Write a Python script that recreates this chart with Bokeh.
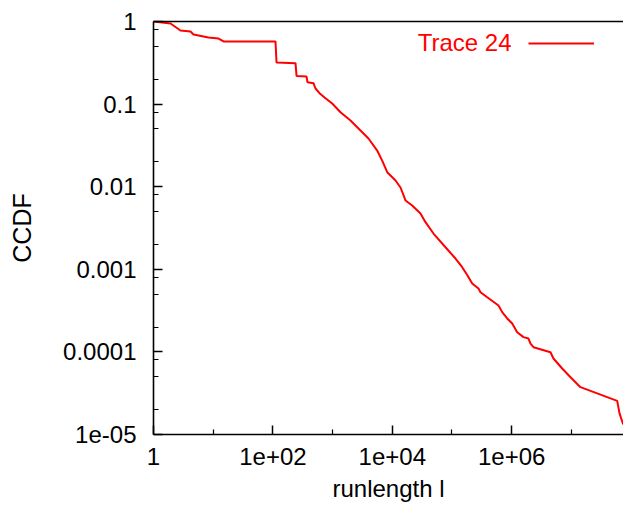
from bokeh.plotting import figure
from bokeh.models import (Range1d, FixedTicker, CustomJSTickFormatter, Label,
                          Legend, LegendItem, LogAxis)
from bokeh.embed import file_html
from bokeh.resources import INLINE

# ---- data ----
runlength = [1, 1.93, 2.83, 4.17, 4.68, 8.34, 12.3, 14.9, 110.6, 115, 239, 249,
             365, 380, 479, 517, 604, 732, 985, 1355, 1995, 2931, 3991, 5580,
             6770, 8220, 11320, 13720, 16640, 21530, 29650, 35960, 48980, 77800,
             114500, 148300, 181900, 218000, 277800, 300000, 389000, 601000,
             693000, 841000, 1.02e6, 1.236e6, 1.577e6, 1.911e6, 2.065e6,
             2.318e6, 4.466e6, 5.01e6, 7.01e6, 9.66e6, 1.42e7, 5.85e7, 6.40e7,
             7.38e7]
ccdf = [1, 0.946, 0.778, 0.757, 0.696, 0.640, 0.622, 0.573, 0.573, 0.319,
        0.313, 0.219, 0.216, 0.184, 0.179, 0.1545, 0.1355, 0.120, 0.1017,
        0.0798, 0.0633, 0.0479, 0.0383, 0.0274, 0.0207, 0.01497, 0.01188,
        0.00978, 0.00681, 0.00592, 0.00474, 0.00372, 0.00271, 0.00185, 0.00135,
        0.00106, 0.000841, 0.000673, 0.000585, 0.000528, 0.000459, 0.000365,
        0.000303, 0.000254, 0.000221, 0.000173, 0.000151, 0.000145, 0.000126,
        0.000114, 9.91e-5, 8.32e-5, 6.30e-5, 4.94e-5, 3.74e-5, 2.55e-5,
        1.80e-5, 1.32e-5]
series_name = "Trace 24"

x_ticks = [1, 1e2, 1e4, 1e6]
x_tick_labels = ["1", "1e+02", "1e+04", "1e+06"]
x_minor_ticks = [1e1, 1e3, 1e5, 1e7]
y_ticks = [1e-5, 1e-4, 1e-3, 1e-2, 1e-1, 1]
y_tick_labels = ["1e-05", "0.0001", "0.001", "0.01", "0.1", "1"]
y_minor_ticks = [2e-5, 5e-5, 8e-5, 2e-4, 5e-4, 8e-4, 2e-3, 5e-3, 8e-3,
                 2e-2, 5e-2, 8e-2, 2e-1, 5e-1, 8e-1]

FONT = "Liberation Sans"
RED = "#ff0000"

p = figure(width=623, height=508, x_axis_type="log", y_axis_type="log",
           x_range=Range1d(1, 7.46e7), y_range=Range1d(1e-5, 1),
           output_backend="svg", toolbar_location=None,
           min_border_left=153, min_border_right=0, min_border_top=21,
           min_border_bottom=74)
p.outline_line_color = None
p.grid.visible = False
p.background_fill_color = "white"
p.border_fill_color = "white"

r = p.line(runlength, ccdf, line_color=RED, line_width=2)

code = """
const lt = Math.log10(tick);
for (let i = 0; i < tvals.length; i++) {
  if (Math.abs(Math.log10(tvals[i]) - lt) < 1e-6) return tlabels[i];
}
return '';
"""
p.xaxis.ticker = FixedTicker(ticks=x_ticks, minor_ticks=x_minor_ticks)
p.xaxis.formatter = CustomJSTickFormatter(args=dict(tvals=x_ticks, tlabels=x_tick_labels), code=code)
p.yaxis.ticker = FixedTicker(ticks=y_ticks, minor_ticks=y_minor_ticks)
p.yaxis.formatter = CustomJSTickFormatter(args=dict(tvals=y_ticks, tlabels=y_tick_labels), code=code)

for ax in (p.xaxis, p.yaxis):
    ax.axis_line_color = "black"
    ax.axis_line_width = 1.6
    ax.major_tick_in = 9
    ax.major_tick_out = 0
    ax.minor_tick_in = 5
    ax.minor_tick_out = 0
    ax.major_tick_line_width = 1.5
    ax.minor_tick_line_width = 1.2
    ax.major_tick_line_color = "black"
    ax.minor_tick_line_color = "black"
    ax.major_label_text_font = FONT
    ax.major_label_text_font_size = "24px"
    ax.major_label_text_color = "black"
    ax.axis_label_text_font = FONT
    ax.axis_label_text_font_style = "normal"
    ax.axis_label_text_color = "black"

p.xaxis.axis_label = "runlength l"
p.xaxis.axis_label_text_font_size = "24px"
p.xaxis.major_label_standoff = 13
p.xaxis.axis_label_standoff = 7
p.yaxis.axis_label = "CCDF"
p.yaxis.axis_label_text_font_size = "25px"
p.yaxis.major_label_standoff = 17
p.yaxis.axis_label_standoff = 24

# top border of the plot box (plain axis line, no ticks or labels)
top = LogAxis(ticker=FixedTicker(ticks=[]), axis_line_color="black",
              axis_line_width=1.6, major_tick_line_color=None,
              minor_tick_line_color=None, major_label_text_font_size="0px",
              major_tick_in=0, major_tick_out=0, minor_tick_in=0, minor_tick_out=0,
              major_label_standoff=0)
p.add_layout(top, "above")

# legend: text on the left, line sample on the right (gnuplot style)
legend = Legend(items=[LegendItem(label=" ", renderers=[r])],
                location=(375, 381), glyph_width=66, glyph_height=20,
                padding=0, margin=0, spacing=0, label_standoff=0,
                label_width=0, label_height=0, label_text_font_size="1px",
                border_line_color=None, background_fill_alpha=0)
p.add_layout(legend)
p.add_layout(Label(x=358, y=392, x_units="screen", y_units="screen",
                   text=series_name, text_align="right", text_baseline="middle",
                   text_font=FONT, text_font_size="24px", text_color=RED))

open("out.html", "w").write(file_html(p, INLINE))
